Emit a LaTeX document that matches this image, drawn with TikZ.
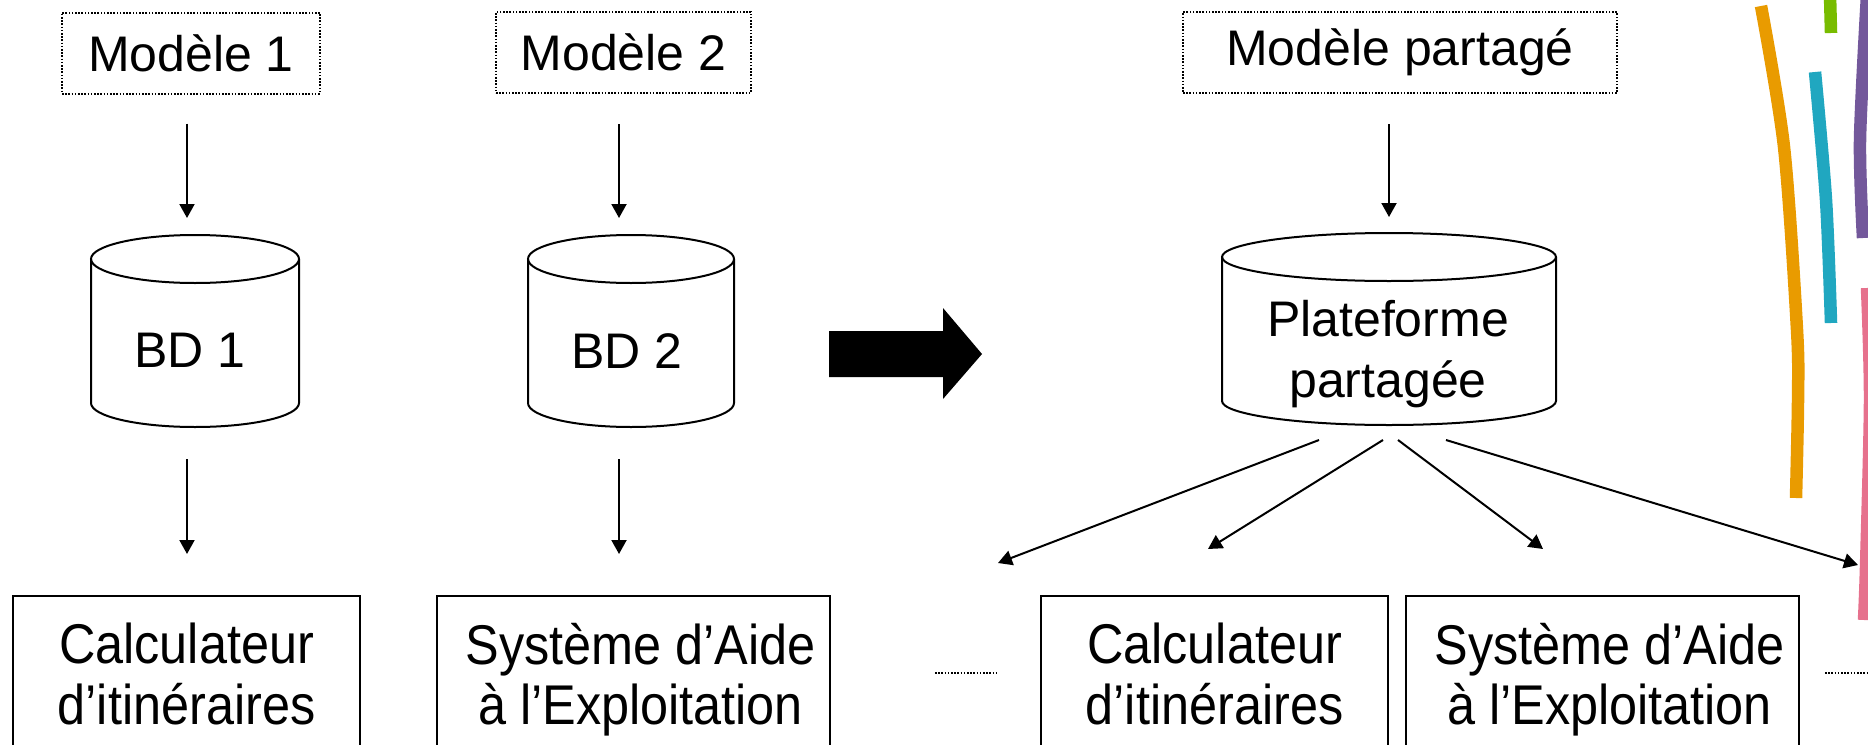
\documentclass[tikz,border=0pt]{standalone}
\usepackage{fontspec}
\setmainfont{Liberation Sans}
\usepackage{graphicx}
\usetikzlibrary{arrows.meta}
\newcommand{\nrw}[1]{\scalebox{0.9}[1]{\strut #1}}
\newcommand{\nrws}[1]{\scalebox{0.9}[1]{\strut\kern7.8pt #1}}
\newcommand{\drawcyl}[3]{%
  \draw[cylline] ([yshift=-#3]#1.north west) -- ([yshift=#3]#1.south west)
     arc[start angle=180,end angle=360,x radius=#2,y radius=#3]
     -- ([yshift=-#3]#1.north east);
  \draw[cylline] ([yshift=-#3]#1.north) ellipse[x radius=#2,y radius=#3];
}
\begin{document}
\begin{tikzpicture}[x=0.5pt,y=-0.5pt,
  dotbox/.style={draw, line width=1pt, dash pattern=on 0.8pt off 0.8pt,
    minimum height=40.5pt, inner sep=0pt, font=\fontsize{25}{30}\selectfont},
  cylnode/.style={inner sep=0pt, outer sep=0pt, minimum height=96pt},
  cylline/.style={line width=1pt},
  cyltext/.style={inner sep=0pt, align=center, font=\fontsize{25}{30.5}\selectfont},
  appbox/.style={draw, line width=1pt, inner sep=0pt, minimum height=86.4pt,
    align=center, font=\fontsize{28}{29}\selectfont},
  arr/.style={line width=1pt, -{Triangle[length=7pt,width=7.5pt]}},
  dotline/.style={line width=1pt, dash pattern=on 0.8pt off 0.8pt},
  deco/.style={line width=6.25pt, line cap=butt}
]
\useasboundingbox (0,0) rectangle (1868,744);
\clip (0,0) rectangle (1868,744);

% model boxes
\node[dotbox, minimum width=129pt] (m1) at (191,53) {Modèle 1};
\node[dotbox, minimum width=127.5pt] (m2) at (623.5,52.5) {Modèle 2};
\node[dotbox, minimum width=217pt] (mp) at (1400,52.5) {Modèle partagé};

% cylinders
\node[cylnode, minimum width=104pt] (bd1) at (195,331) {};
\node[cylnode, minimum width=103pt] (bd2) at (631,331) {};
\node[cylnode, minimum width=167pt] (bd3) at (1389,329) {};
\drawcyl{bd1}{52pt}{12pt}
\drawcyl{bd2}{51.5pt}{12pt}
\drawcyl{bd3}{83.5pt}{12pt}
\node[cyltext] (bd1t) at (190,350) {BD 1};
\node[cyltext] (bd2t) at (627,351) {BD 2};
\node[cyltext] (bd3t) at (1388,354.5) {Plateforme\\partagée};

% application boxes
\node[appbox, minimum width=173.5pt] (c1) at (186.5,682.4) {\nrw{Calculateur}\\\nrw{d’itinéraires}};
\node[appbox, minimum width=196.5pt] (s1) at (633.5,682.4) {\nrws{Système d’Aide}\\\nrws{à l’Exploitation}};
\node[appbox, minimum width=173.5pt] (c2) at (1214.5,682.4) {\nrw{Calculateur}\\\nrw{d’itinéraires}};
\node[appbox, minimum width=196.5pt] (s2) at (1602.5,682.4) {\nrws{Système d’Aide}\\\nrws{à l’Exploitation}};

% dotted ellipsis lines
\coordinate (dl1a) at (935,673);
\coordinate (dl1b) at (996,673);
\coordinate (dl2a) at (1825,673);
\coordinate (dl2b) at (1868,673);
\draw[dotline] (dl1a) -- (dl1b);
\draw[dotline] (dl2a) -- (dl2b);

% arrows, left part
\draw[arr] ([xshift=-2pt,yshift=-14.5pt]m1.south) -- ([xshift=-4pt,yshift=8.5pt]bd1.north);
\draw[arr] ([xshift=-4pt,yshift=-16pt]bd1.south) -- ([xshift=0.25pt,yshift=20.5pt]c1.north);
\draw[arr] ([xshift=-2.25pt,yshift=-15pt]m2.south) -- ([xshift=-6pt,yshift=8.5pt]bd2.north);
\draw[arr] ([xshift=-6pt,yshift=-16pt]bd2.south) -- ([xshift=-7.25pt,yshift=20.5pt]s1.north);

% big arrow
\fill (829,331) -- (943,331) -- (943,308) -- (982,354) -- (943,399) -- (943,377) -- (829,377) -- cycle;

% arrows, right part
\draw[arr] ([xshift=-5.5pt,yshift=-15pt]mp.south) -- ([yshift=8pt]bd3.north);
\coordinate (e1) at (998,563);
\coordinate (e4) at (1858,565);
\draw[arr] ([xshift=-35pt,yshift=-7.5pt]bd3.south) -- (e1);
\draw[arr] ([xshift=-3pt,yshift=-7.5pt]bd3.south) -- ([xshift=-3.25pt,yshift=23pt]c2.north);
\draw[arr] ([xshift=4.5pt,yshift=-7.5pt]bd3.south) -- ([xshift=-29.75pt,yshift=23pt]s2.north);
\draw[arr] ([xshift=28.5pt,yshift=-7.5pt]bd3.south) -- (e4);

% decorative coloured strokes
\definecolor{dOrange}{RGB}{233,155,0}
\definecolor{dGreen}{RGB}{120,188,0}
\definecolor{dTeal}{RGB}{32,167,192}
\definecolor{dPurple}{RGB}{115,88,155}
\definecolor{dPink}{RGB}{230,113,141}
\draw[deco, dOrange] plot[smooth] coordinates {(1761,6) (1784,147) (1797,330) (1798,400) (1796,498)};
\draw[deco, dGreen] (1830,-5) -- (1831,33);
\draw[deco, dTeal] plot[smooth] coordinates {(1815,72) (1826,200) (1831,323)};
\draw[deco, dPurple] plot[smooth] coordinates {(1867,-5) (1860,140) (1863,238)};
\draw[deco, dPink] plot[smooth] coordinates {(1867,288) (1870,400) (1866,567) (1864,620)};
\end{tikzpicture}
\end{document}
